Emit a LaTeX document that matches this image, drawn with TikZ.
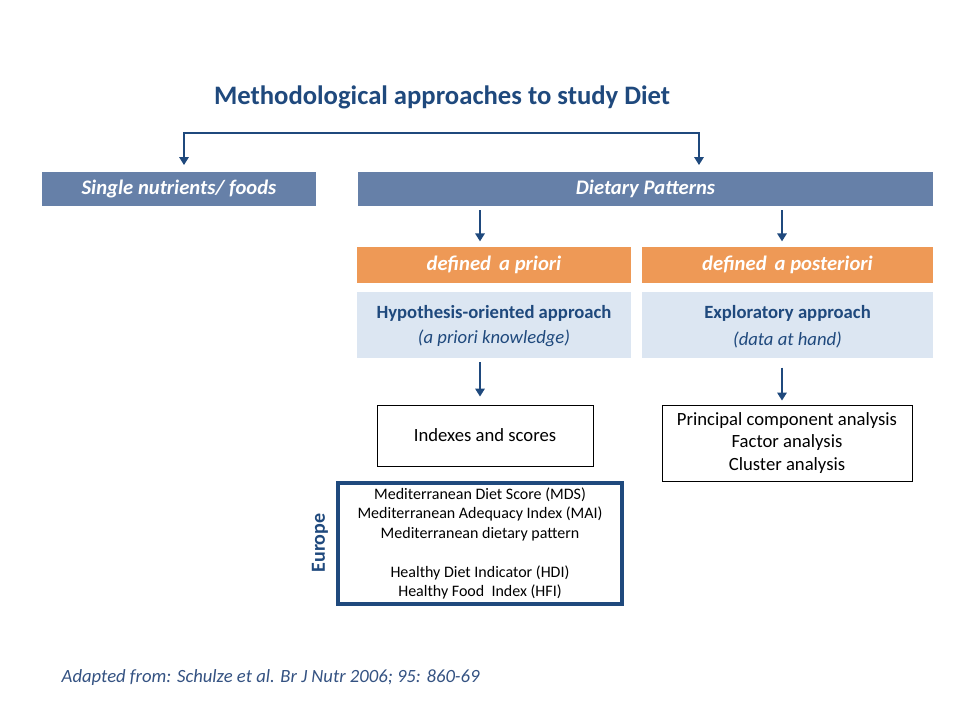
\documentclass[tikz,border=0pt]{standalone}
\usepackage{fontspec}
\setmainfont{Carlito}
\usetikzlibrary{arrows.meta}

% 颜色
\definecolor{dblue}{RGB}{31,73,125}
\definecolor{steel}{RGB}{102,128,168}
\definecolor{ora}{RGB}{238,153,86}
\definecolor{lblue}{RGB}{220,230,242}
\definecolor{refblue}{RGB}{52,82,130}

\tikzset{
	headbox/.style={fill=steel, text=white, font=\fontsize{15.5}{18}\selectfont\bfseries\itshape, inner sep=0pt},
	orabox/.style={fill=ora, text=white, font=\fontsize{15.5}{18}\selectfont\bfseries\itshape, inner sep=0pt},
	lightbox/.style={fill=lblue, inner sep=0pt, align=center},
	plainbox/.style={draw=black, line width=0.6pt, inner sep=0pt, align=center, font=\fontsize{14}{16.9}\selectfont},
	arr/.style={draw=dblue, line width=2.2pt, -{Triangle[width=7pt,length=6pt]}}
}

\begin{document}
\begin{tikzpicture}[x=0.75pt, y=-0.75pt]
	% 画布大小,按像素坐标
	\useasboundingbox (0,0) rectangle (960,720);
	
	% 标题
	\node[text=dblue, font=\fontsize{20}{24}\selectfont\bfseries] (title) at (442,97) {Methodological approaches to study Diet};
	
	% 第一层两个框
	\node[headbox, minimum width=205.5pt, minimum height=25.5pt] (single) at (179,189) {Single nutrients/ foods};
	\node[headbox, minimum width=431.25pt, minimum height=25.5pt] (dietary) at (645.5,189) {Dietary Patterns};
	
	% 顶部的折线箭头,从标题下方分到两边
	\coordinate (top) at (442,133);
	\draw[arr, line width=2pt, shorten >=5pt] (top) -| (single.north -| 184,0);
	\draw[arr, line width=2pt, shorten >=5pt] (top) -| (dietary.north -| 699,0);
	
	% 第二层:橙色框
	\node[orabox, minimum width=205.5pt, minimum height=27pt] (priori) at (494,265) {defined\, a priori};
	\node[orabox, minimum width=218.25pt, minimum height=27pt] (poster) at (787.5,265) {defined\, a posteriori};
	
	% 浅蓝色说明框
	\node[lightbox, minimum width=205.5pt, minimum height=49.5pt] (hypo) at (494,325) {};
	\node[text=dblue, font=\fontsize{14}{16}\selectfont\bfseries] (hypot) at (494,313) {Hypothesis-oriented approach};
	\node[text=dblue, font=\fontsize{14}{16}\selectfont\itshape] (hypos) at (494,338) {(a priori knowledge)};
	\node[lightbox, minimum width=218.25pt, minimum height=49.5pt] (explo) at (787.5,325) {};
	\node[text=dblue, font=\fontsize{14}{16}\selectfont\bfseries] (explot) at (787.5,313) {Exploratory approach};
	\node[text=dblue, font=\fontsize{14}{16}\selectfont\itshape] (exploс) at (787.5,340) {(data at hand)};
	
	% 箭头所在的 x 位置
	\coordinate (xl) at (480,0);
	\coordinate (xr) at (782,0);
	\draw[arr, shorten <=3pt, shorten >=4pt] (dietary.south -| xl) -- (priori.north -| xl);
	\draw[arr, shorten <=3pt, shorten >=4pt] (dietary.south -| xr) -- (poster.north -| xr);
	
	% 第三层白框
	\node[plainbox, minimum width=162pt, minimum height=45.75pt] (index) at (485,435.5) {Indexes and scores};
	\node[plainbox, minimum width=187.5pt, minimum height=57pt] (pca) at (787,443) {Principal component analysis\\Factor analysis\\Cluster analysis};
	\draw[arr, shorten <=3pt, shorten >=6pt] (hypo.south -| xl) -- (index.north -| xl);
	\draw[arr, shorten <=7pt, shorten >=3pt] (explo.south -| xr) -- (pca.north -| xr);
	
	% 欧洲的指数列表
	\node[draw=dblue, line width=3pt, minimum width=213pt, minimum height=91pt, inner sep=0pt, align=center, font=\fontsize{12}{14.6}\selectfont] (europe) at (480,543.5)
		{Mediterranean Diet Score (MDS)\\Mediterranean Adequacy Index (MAI)\\Mediterranean dietary pattern\\[14.6pt]Healthy Diet Indicator (HDI)\\Healthy Food\ \ Index (HFI)};
	\node[rotate=90, text=dblue, font=\fontsize{15}{18}\selectfont\bfseries] (eulabel) at (320,543) {Europe};
	
	% 出处
	\node[anchor=west, text=refblue, font=\fontsize{14}{16}\selectfont\itshape] (source) at (57,678) {Adapted from: Schulze et al. Br J Nutr 2006; 95: 860-69};
\end{tikzpicture}
\end{document}
